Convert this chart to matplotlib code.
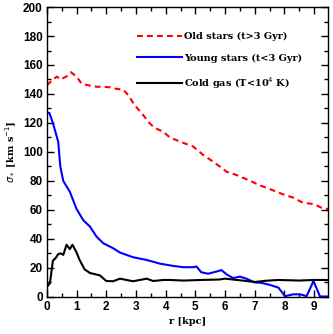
import matplotlib
matplotlib.use("Agg")
import matplotlib.pyplot as plt
from matplotlib.ticker import MultipleLocator

# Old stars (red dashed)
r_old = [0.0, 0.15, 0.33, 0.46, 0.65, 0.81, 1.0, 1.17, 1.4, 1.67, 1.9, 2.12, 2.35, 2.57, 2.75, 2.9,
         3.05, 3.24, 3.45, 3.64, 3.92, 4.14, 4.5, 4.93, 5.26, 5.55, 5.82, 6.05, 6.4, 6.8, 7.17,
         7.5, 7.95, 8.3, 8.62, 9.0, 9.25, 9.5]
s_old = [146, 149, 152, 150, 152, 155, 152, 147, 146, 145, 145, 144.6, 143.5, 143, 139, 134,
         130, 125.5, 120, 116.5, 114, 110, 107, 103.7, 98, 94, 90, 86.4, 84, 80.5, 77,
         74.5, 70.8, 68.5, 65, 64, 61.5, 60.5]

# Young stars (blue)
r_young = [0.0, 0.08, 0.2, 0.38, 0.45, 0.55, 0.77, 0.99, 1.22, 1.45, 1.67, 1.9, 2.23, 2.46, 2.9,
           3.36, 3.8, 4.25, 4.6, 4.93, 5.04, 5.2, 5.43, 5.71, 5.88, 6.05, 6.27, 6.5, 6.72, 7.0,
           7.23, 7.51, 7.8, 8.02, 8.3, 8.53, 8.75, 8.98, 9.2, 9.5]
s_young = [127, 127, 120, 107, 90, 80, 72.6, 61, 53, 48.5, 41.6, 37, 33.6, 30.6, 27.4,
           25.5, 23, 21.4, 20.5, 20.5, 21, 17, 16, 17.5, 18.5, 15.6, 13, 14, 12.6, 10,
           9.7, 8.3, 6.4, 0.5, 1.8, 1.8, 0.5, 11, 0.3, 0.3]

# Cold gas (black)
r_gas = [0.0, 0.1, 0.2, 0.3, 0.38, 0.47, 0.55, 0.66, 0.77, 0.86, 0.99, 1.1, 1.27, 1.45, 1.78,
         2.0, 2.23, 2.46, 2.68, 2.9, 3.13, 3.36, 3.58, 3.92, 4.14, 4.6, 5.2, 5.8, 6.0, 6.5,
         7.0, 7.4, 7.8, 8.5, 9.0, 9.5]
s_gas = [7, 9.4, 25, 27, 29.6, 30, 29, 36, 33, 36, 31, 25.5, 19, 16.5, 14.9,
         11, 10.8, 12.6, 11.7, 10.8, 11.7, 12.6, 11, 11.7, 11.7, 11.3, 11.7, 12.0, 12.6, 11.5,
         10.3, 11.2, 11.7, 11.3, 11.7, 11.7]

labels = ["Old stars (t>3 Gyr)", "Young stars (t<3 Gyr)", r"Cold gas (T<10$^4$ K)"]

fig = plt.figure(figsize=(3.33, 3.34), dpi=100)
ax = fig.add_axes([0.141, 0.111, 0.844, 0.868])

ax.plot(r_old, s_old, color="red", lw=1.5, ls=(0, (2.8, 2.0)), label=labels[0])
ax.plot(r_young, s_young, color="blue", lw=1.5, label=labels[1])
ax.plot(r_gas, s_gas, color="black", lw=1.5, label=labels[2])

ax.set_xlim(0, 9.47)
ax.set_ylim(0, 200)
ax.xaxis.set_major_locator(MultipleLocator(1))
ax.xaxis.set_minor_locator(MultipleLocator(0.5))
ax.yaxis.set_major_locator(MultipleLocator(20))
ax.yaxis.set_minor_locator(MultipleLocator(10))
ax.tick_params(which="both", direction="in", top=True, right=True, width=1.0)
ax.tick_params(which="major", length=5)
ax.tick_params(which="minor", length=3)
for lab in ax.get_xticklabels() + ax.get_yticklabels():
    lab.set_fontfamily("Liberation Sans")
    lab.set_fontweight("bold")
    lab.set_fontsize(8.5)
ax.tick_params(axis="x", pad=3)
ax.tick_params(axis="y", pad=3)
for sp in ax.spines.values():
    sp.set_linewidth(1.0)

ax.set_xlabel("r [kpc]", fontfamily="DejaVu Serif", fontweight="bold", fontsize=7, labelpad=3)
ax.set_ylabel(r"$\sigma_*$ [km s$^{-1}$]", fontfamily="DejaVu Serif", fontweight="bold",
              fontsize=7, labelpad=3)

leg = ax.legend(loc="upper left", bbox_to_anchor=(0.305, 0.926), frameon=False,
                handlelength=4.7, handletextpad=0.2, labelspacing=1.25, borderaxespad=0,
                prop={"family": "DejaVu Serif", "weight": "bold", "size": 7})

fig.savefig("out.png", dpi=100)
